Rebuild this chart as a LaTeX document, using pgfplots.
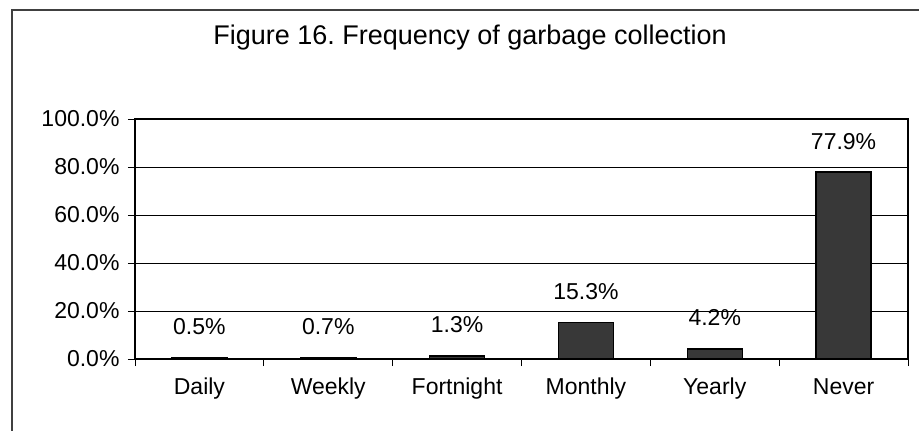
\documentclass[border=0pt]{standalone}
\usepackage{fontspec}
\setmainfont{Liberation Sans}
\usepackage{pgfplots}
\pgfplotsset{compat=1.18}
\frenchspacing
\begin{document}
\begin{tikzpicture}
\path[use as bounding box] (0bp,0bp) rectangle (919bp,-431bp);
\draw[black!75, line width=1.2bp] (12bp,-431bp) -- (12bp,-10bp) -- (919bp,-10bp);
\node[anchor=base, font=\fontsize{27bp}{31bp}\selectfont, inner sep=0pt] at (470bp,-44bp) {Figure 16. Frequency of garbage collection};
\begin{axis}[
  at={(135bp,-359bp)}, anchor=south west,
  scale only axis, width=773bp, height=240bp,
  xmin=0, xmax=6, ymin=0, ymax=100,
  ybar, bar width=55bp, bar shift=0pt,
  xtick={0.5,1.5,2.5,3.5,4.5,5.5},
  xticklabels={Daily,Weekly,Fortnight,Monthly,Yearly,Never},
  minor xtick={0,1,2,3,4,5,6},
  major x tick style={draw=none},
  tick align=outside,
  tick pos=left,
  ytick={0,20,40,60,80,100},
  yticklabel={\pgfmathprintnumber[fixed,fixed zerofill,precision=1]{\tick}\%},
  ymajorgrids, grid style={black, line width=0.8bp},
  major tick length=7bp, minor tick length=7bp,
  every tick/.style={black, line width=0.8bp},
  minor x tick style={black, line width=0.8bp},
  axis line style={line width=2bp},
  tick label style={font=\fontsize{23bp}{27bp}\selectfont},
  xticklabel style={text height=17bp, text depth=5bp, yshift=-8bp},
  yticklabel style={xshift=-5bp},
  /pgf/number format/assume math mode=true,
  point meta=explicit symbolic,
  nodes near coords,
  every node near coord/.append style={font=\fontsize{23bp}{27bp}\selectfont, anchor=base, inner sep=0pt, yshift=23bp, text=black},
]
\addplot[fill=black!78, draw=black, line width=1.5bp]
  coordinates {(0.5,0.5) [0.5\%] (1.5,0.7) [0.7\%] (2.5,1.3) [1.3\%] (3.5,15.3) [15.3\%] (4.5,4.2) [4.2\%] (5.5,77.9) [77.9\%]};
\end{axis}
\end{tikzpicture}
\end{document}
